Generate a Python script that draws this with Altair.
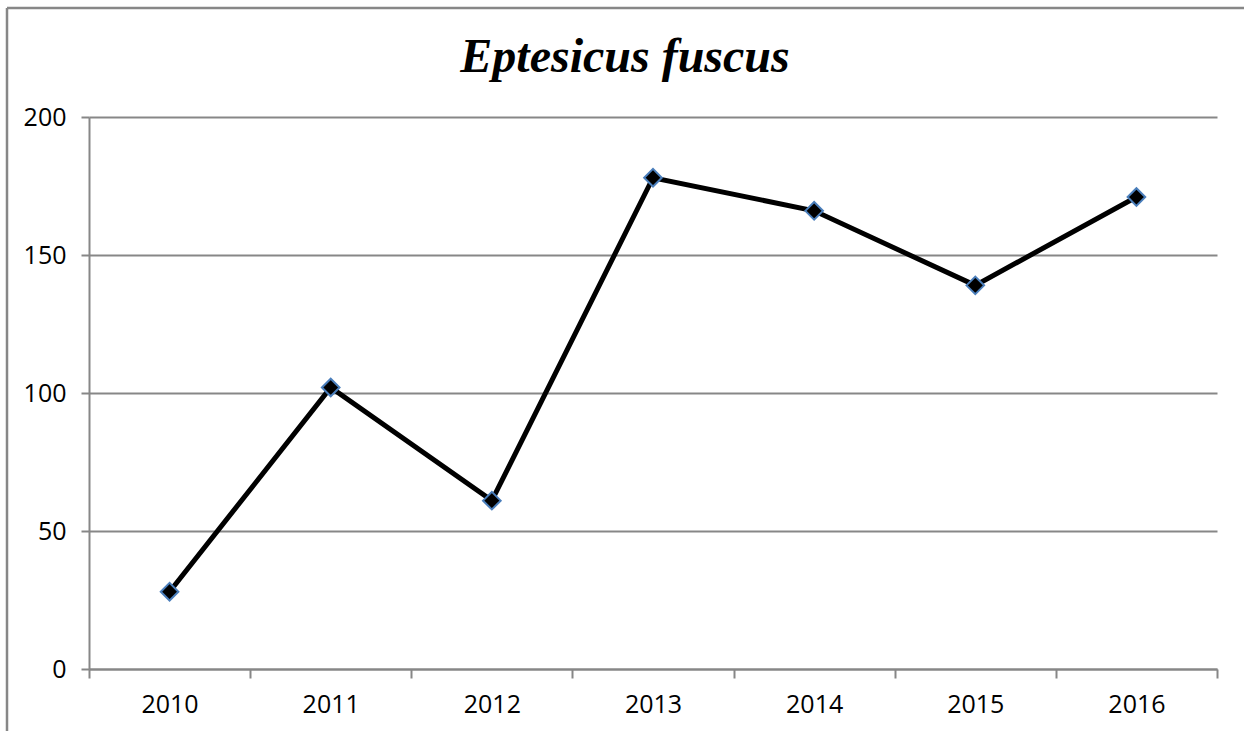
import altair as alt
import pandas as pd

years = ["2010", "2011", "2012", "2013", "2014", "2015", "2016"]
counts = [28, 102, 61, 178, 166, 139, 171]
title_text = "Eptesicus fuscus"
y_ticks = [0, 50, 100, 150, 200]

df = pd.DataFrame({"year": years, "count": counts})

W, H = 1128, 552
LEFT, TOP = 89, 117
GRAY = "#878787"

x_enc = alt.X(
    "year:N",
    sort=years,
    scale=alt.Scale(paddingInner=0, paddingOuter=0),
    axis=alt.Axis(
        title=None, labelAngle=0, tickBand="extent", tickSize=9,
        labelPadding=14, labelFontSize=25, labelFont="Open Sans",
        labelColor="#000000", domainColor=GRAY, tickColor=GRAY,
        domainWidth=2, tickWidth=2, grid=False,
    ),
)
y_enc = alt.Y(
    "count:Q",
    scale=alt.Scale(domain=[0, 200], nice=False),
    axis=alt.Axis(
        title=None, values=y_ticks, tickSize=8, labelPadding=15,
        labelFontSize=25, labelFont="Open Sans", labelColor="#000000",
        domainColor=GRAY, tickColor=GRAY, gridColor=GRAY, domainWidth=2,
        tickWidth=2, gridWidth=2, grid=True,
    ),
)

base = alt.Chart(df)
line = base.mark_line(color="#000000", strokeWidth=5).encode(x=x_enc, y=y_enc)
pts = base.mark_point(
    shape="diamond", filled=True, fill="#000000", stroke="#4a7ebb",
    strokeWidth=2, size=310, opacity=1,
).encode(x=x_enc, y=y_enc)

frame_df = pd.DataFrame({"k": [0]})
left_border = alt.Chart(frame_df).mark_rule(color=GRAY, strokeWidth=2.5, clip=False).encode(
    x=alt.value(7 - LEFT), y=alt.value(8 - TOP), y2=alt.value(731 - TOP + 5)
)
top_border = alt.Chart(frame_df).mark_rule(color=GRAY, strokeWidth=2.5, clip=False).encode(
    x=alt.value(7 - LEFT), x2=alt.value(1244 - LEFT + 5), y=alt.value(8 - TOP)
)
title = alt.Chart(frame_df).mark_text(
    text=title_text, font="Liberation Serif", fontSize=48, fontWeight="bold",
    fontStyle="italic", color="#000000", align="center", baseline="alphabetic",
).encode(x=alt.value(625 - LEFT), y=alt.value(72 - TOP))

chart = alt.layer(left_border, top_border, title, line, pts).properties(
    width=W, height=H,
    padding={"left": LEFT, "top": TOP, "right": 1244 - LEFT - W, "bottom": 731 - TOP - H},
    autosize=alt.AutoSizeParams(type="none"),
    background="#ffffff",
).configure_view(stroke=None)

chart.save("out.html", embed_options={"renderer": "svg", "actions": False})
